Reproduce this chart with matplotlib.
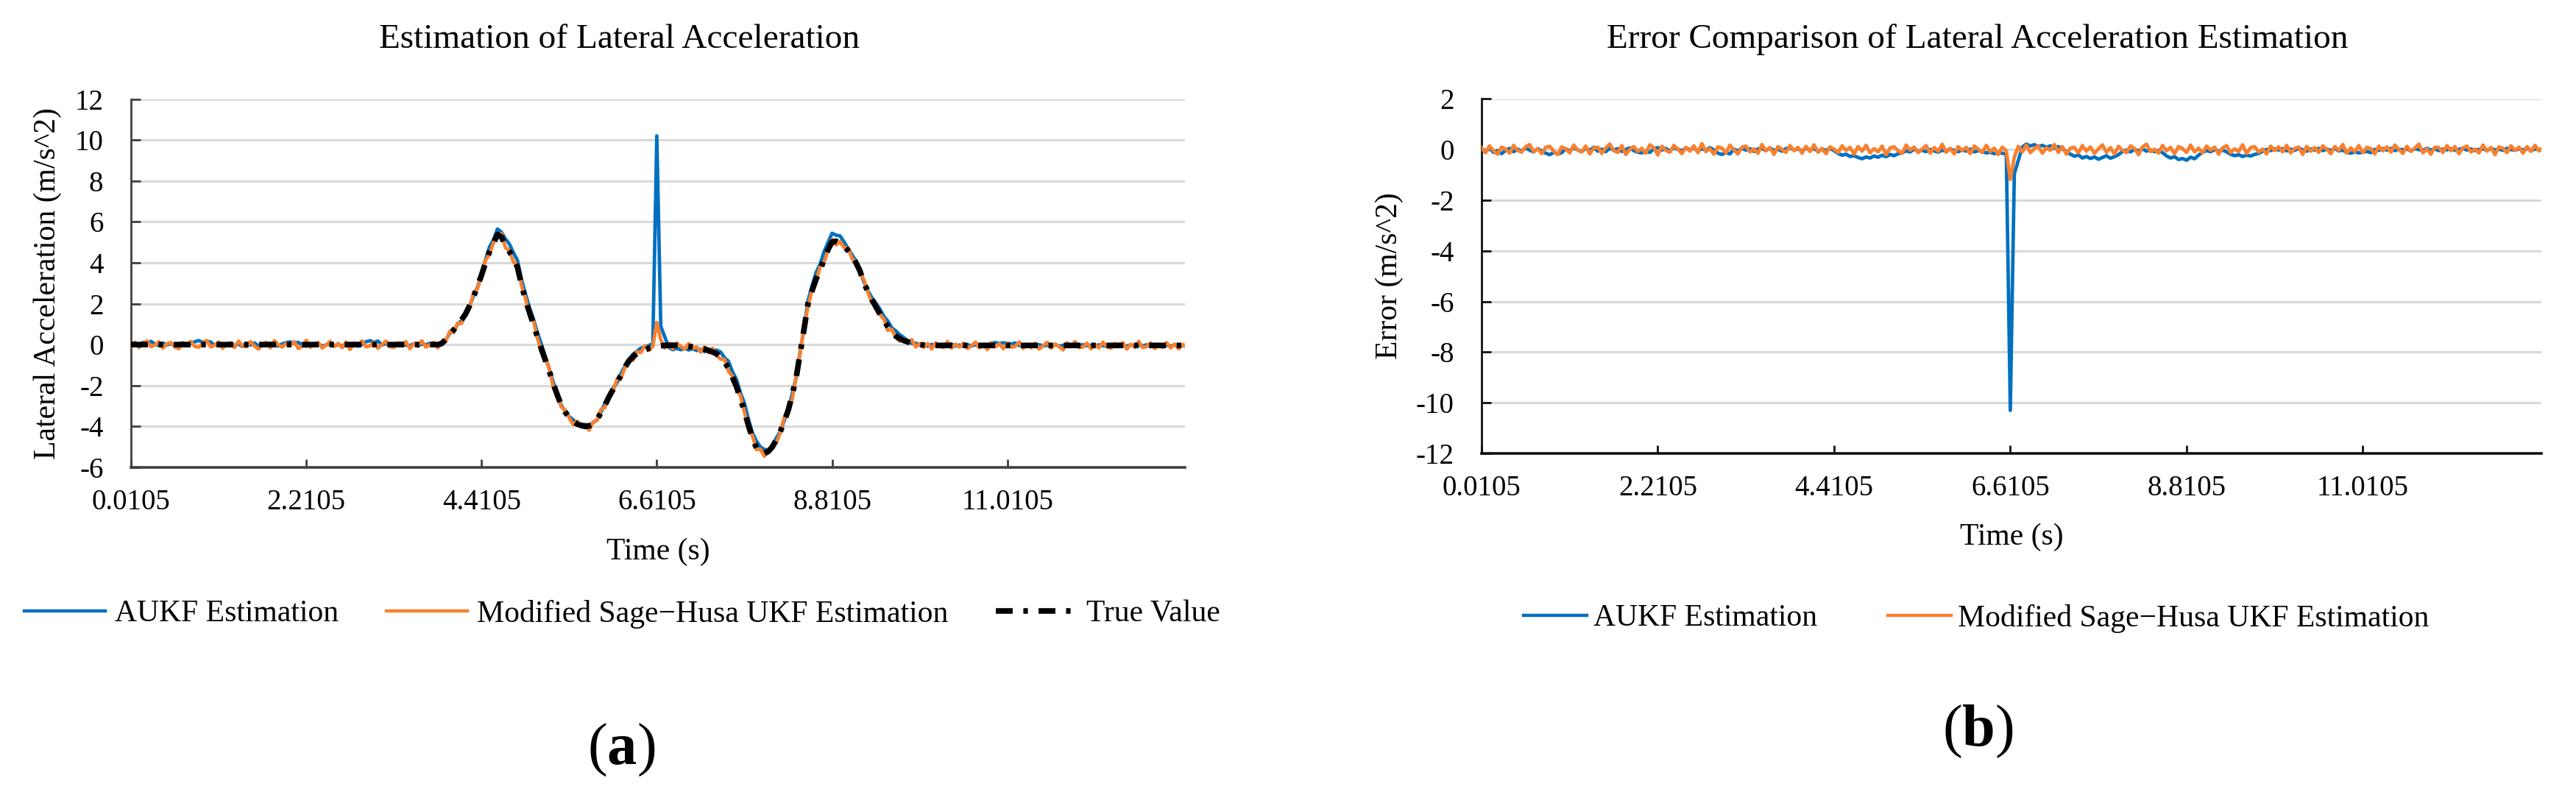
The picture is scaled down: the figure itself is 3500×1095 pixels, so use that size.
import numpy as np
import matplotlib
matplotlib.use('Agg')
import matplotlib.pyplot as plt
from matplotlib.lines import Line2D

plt.rcParams['font.family'] = ['Liberation Serif', 'DejaVu Serif']
plt.rcParams['mathtext.fontset'] = 'custom'
plt.rcParams['mathtext.rm'] = 'Liberation Serif'
plt.rcParams['mathtext.bf'] = 'Liberation Serif:bold'
plt.rcParams['axes.unicode_minus'] = False

# ---------------- data ----------------
time_start = 0.0105
time_step = 0.05

true_value = [
    0, 0, 0, 0, 0, 0, 0, 0, 0, 0,
    0, 0, 0, 0, 0, 0, 0, 0, 0, 0,
    0, 0, 0, 0, 0, 0, 0, 0, 0, 0,
    0, 0, 0, 0, 0, 0, 0, 0, 0, 0,
    0, 0, 0, 0, 0, 0, 0, 0, 0, 0,
    0, 0, 0, 0, 0, 0, 0, 0, 0, 0,
    0, 0, 0, 0, 0, 0, 0, 0, 0, 0,
    0, 0, 0, 0, 0, 0, 0, 0, 0.05, 0.25,
    0.5, 0.72, 0.98, 1.22, 1.5, 1.9, 2.35, 2.85, 3.4, 4.0,
    4.55, 4.95, 5.38, 5.25, 4.85, 4.55, 4.2, 3.8, 2.95, 2.2,
    1.6, 1.0, 0.4, -0.2, -0.75, -1.3, -1.9, -2.45, -2.95, -3.3,
    -3.55, -3.75, -3.88, -3.95, -4.0, -3.97, -3.88, -3.65, -3.33, -2.95,
    -2.55, -2.2, -1.85, -1.5, -1.1, -0.8, -0.6, -0.43, -0.33, -0.25,
    -0.18, -0.14, -0.1, -0.06, -0.04, -0.03, -0.03, -0.04, -0.05, -0.07,
    -0.09, -0.11, -0.14, -0.17, -0.22, -0.28, -0.36, -0.45, -0.62, -0.85,
    -1.15, -1.6, -2.05, -2.65, -3.25, -3.95, -4.55, -5.05, -5.28, -5.32,
    -5.22, -5.0, -4.65, -4.25, -3.75, -3.2, -2.45, -1.6, -0.4, 0.8,
    2.05, 2.65, 3.2, 3.65, 4.15, 4.65, 5.02, 5.05, 4.95, 4.8,
    4.6, 4.35, 4.0, 3.6, 3.0, 2.6, 2.2, 1.85, 1.5, 1.18,
    0.88, 0.6, 0.42, 0.29, 0.2, 0.13, 0.07, 0.03, 0.0, -0.02,
    -0.04, -0.04, -0.04, -0.04, -0.04, -0.04, -0.04, -0.04, -0.04, -0.04,
    -0.04, -0.04, -0.04, -0.04, -0.04, -0.04, -0.04, -0.04, -0.04, -0.04,
    -0.04, -0.04, -0.04, -0.04, -0.04, -0.04, -0.04, -0.04, -0.04, -0.04,
    -0.04, -0.04, -0.04, -0.04, -0.04, -0.04, -0.04, -0.04, -0.04, -0.04,
    -0.04, -0.04, -0.04, -0.04, -0.04, -0.04, -0.04, -0.04, -0.04, -0.04,
    -0.04, -0.04, -0.04, -0.04, -0.04, -0.04, -0.04, -0.04, -0.04, -0.04,
    -0.04, -0.04, -0.04, -0.04, -0.04, -0.04,
]

# error = true value - estimation
aukf_error = [
    -0.02, -0.09, 0.06, -0.11, -0.04, -0.16, -0.03, 0.05, -0.08, 0.02,
    -0.06, 0.07, -0.02, -0.09, 0.04, -0.05, -0.14, -0.20, -0.11, -0.17,
    -0.12, 0.03, -0.05, 0.08, -0.01, -0.07, 0.05, -0.03, 0.09, -0.06,
    0.02, -0.08, 0.06, -0.02, 0.04, -0.07, 0.01, 0.07, -0.04, -0.10,
    -0.13, -0.06, -0.11, 0.03, 0.08, -0.02, 0.05, -0.06, 0.09, 0.01,
    -0.04, 0.06, 0.00, 0.07, -0.05, 0.04, -0.03, 0.08, -0.01, -0.14,
    -0.19, -0.12, -0.17, 0.02, -0.05, 0.06, -0.02, 0.04, -0.07, 0.03,
    0.05, -0.04, 0.07, -0.03, 0.01, -0.06, 0.04, 0.08, -0.02, 0.03,
    -0.05, 0.06, -0.01, 0.04, -0.07, 0.02, -0.03, 0.05, -0.04, -0.15,
    -0.22, -0.18, -0.27, -0.24, -0.31, -0.36, -0.29, -0.33, -0.25, -0.30,
    -0.22, -0.28, -0.19, -0.24, -0.16, -0.12, -0.05, -0.09, 0.02, -0.06,
    -0.03, -0.08, 0.01, -0.05, -0.10, -0.02, -0.07, 0.03, -0.04, -0.08,
    -0.01, -0.06, 0.02, -0.09, -0.04, -0.07, -0.13, -0.10, -0.16, -0.12,
    -0.14, -0.18, -10.30, -0.95, -0.42, 0.10, 0.22, 0.14, 0.20, 0.11,
    0.17, 0.09, 0.15, 0.06, 0.12, 0.03, -0.08, -0.18, -0.26, -0.21,
    -0.33, -0.27, -0.35, -0.29, -0.38, -0.31, -0.24, -0.34, -0.28, -0.20,
    -0.07, -0.02, -0.09, 0.01, -0.05, 0.03, -0.06, -0.01, -0.08, -0.03,
    -0.12, -0.25, -0.33, -0.28, -0.39, -0.35, -0.42, -0.30, -0.36, -0.22,
    -0.10, -0.04, -0.08, 0.00, -0.06, -0.02, -0.09, -0.18, -0.24, -0.20,
    -0.27, -0.22, -0.25, -0.19, -0.15, -0.06, 0.01, -0.04, 0.03, -0.02,
    0.04, -0.05, 0.02, -0.03, 0.06, -0.01, -0.06, 0.03, -0.02, 0.05,
    -0.04, 0.02, -0.03, 0.04, -0.05, -0.02, -0.11, -0.14, -0.09, -0.13,
    -0.10, -0.07, -0.12, 0.01, -0.03, 0.04, -0.02, 0.05, -0.04, 0.02,
    -0.01, 0.03, -0.05, 0.04, 0.00, -0.03, 0.05, -0.02, 0.03, -0.04,
    0.02, -0.01, 0.04, -0.03, 0.01, 0.05, -0.02, 0.03, -0.04, 0.01,
    0.03, -0.02, 0.04, -0.01, 0.02, -0.03, 0.05, 0.00, -0.02, 0.03,
    -0.01, 0.04, -0.03, 0.02, 0.01, -0.02,
]

sage_husa_error = [
    0.08, -0.12, 0.15, -0.05, -0.18, 0.10, 0.02, -0.14, 0.17, -0.03,
    -0.10, 0.12, 0.20, -0.08, 0.04, -0.16, 0.09, 0.13, -0.06, -0.20,
    0.11, 0.03, -0.13, 0.18, -0.02, -0.09, 0.14, -0.17, 0.06, 0.10,
    -0.15, 0.07, 0.22, -0.04, -0.11, 0.16, -0.19, 0.01, 0.12, -0.07,
    0.05, -0.14, 0.19, 0.08, -0.21, 0.13, -0.03, -0.10, 0.17, 0.02,
    -0.16, 0.09, -0.06, 0.15, -0.12, 0.24, -0.08, 0.04, -0.18, 0.11,
    0.06, -0.13, 0.18, -0.01, -0.17, 0.10, 0.14, -0.09, 0.03, -0.15,
    0.20, -0.05, 0.08, -0.19, 0.12, 0.01, -0.11, 0.16, -0.04, 0.09,
    -0.14, 0.13, -0.07, 0.19, -0.10, 0.05, -0.16, 0.11, 0.02, -0.12,
    0.15, -0.03, 0.09, -0.18, 0.12, -0.06, 0.17, -0.13, 0.04, -0.09,
    0.14, -0.20, 0.07, 0.11, -0.05, -0.15, 0.18, -0.02, 0.10, -0.12,
    0.03, 0.16, -0.14, 0.08, -0.07, 0.21, -0.10, 0.05, -0.17, 0.12,
    -0.04, 0.09, -0.16, 0.14, 0.02, -0.11, 0.17, -0.08, 0.06, -0.19,
    0.10, -0.05, -1.18, -0.30, 0.13, -0.09, 0.18, -0.12, 0.04, 0.15,
    -0.14, 0.07, -0.03, 0.20, -0.11, 0.12, -0.18, 0.06, 0.09, -0.13,
    0.16, -0.06, 0.11, -0.15, 0.03, 0.19, -0.10, 0.08, -0.17, 0.13,
    -0.02, -0.12, 0.15, 0.05, -0.20, 0.10, 0.22, -0.08, 0.01, -0.14,
    0.17, -0.05, 0.09, -0.16, 0.12, 0.04, -0.11, 0.18, -0.09, 0.06,
    -0.13, 0.14, -0.02, 0.10, -0.18, 0.07, 0.16, -0.12, 0.03, -0.07,
    0.19, -0.15, 0.08, 0.12, -0.10, 0.02, -0.17, 0.14, -0.04, 0.11,
    -0.09, 0.17, -0.13, 0.05, 0.10, -0.19, 0.13, -0.06, 0.08, -0.11,
    0.15, 0.02, -0.16, 0.12, -0.03, 0.20, -0.14, 0.07, -0.08, 0.16,
    -0.12, 0.09, 0.04, -0.17, 0.14, -0.05, 0.11, -0.10, 0.18, 0.01,
    -0.15, 0.13, -0.07, 0.06, 0.22, -0.13, 0.03, -0.18, 0.10, 0.08,
    -0.11, 0.16, -0.04, 0.12, -0.16, 0.07, 0.14, -0.09, 0.02, -0.13,
    0.18, -0.06, 0.09, -0.20, 0.11, 0.05, -0.12, 0.15, -0.03, 0.10,
    -0.14, 0.12, -0.07, 0.17, -0.05, 0.08,
]

x_ticks = [0.0105, 2.2105, 4.4105, 6.6105, 8.8105, 11.0105]
x_tick_labels = ['0.0105', '2.2105', '4.4105', '6.6105', '8.8105', '11.0105']
x_limits = (0.0105, 13.24)
acc_ticks = [-6, -4, -2, 0, 2, 4, 6, 8, 10, 12]
acc_tick_labels = ['-6', '-4', '-2', '0', '2', '4', '6', '8', '10', '12']
err_ticks = [-12, -10, -8, -6, -4, -2, 0, 2]
err_tick_labels = ['-12', '-10', '-8', '-6', '-4', '-2', '0', '2']

labels = ['AUKF Estimation', 'Modified Sage\u2212Husa UKF Estimation', 'True Value']

# ---------------- derived series ----------------
time = time_start + time_step * np.arange(len(true_value))
true_arr = np.array(true_value)
aukf_est = true_arr - np.array(aukf_error)
sage_est = true_arr - np.array(sage_husa_error)

BLUE = '#0070C0'
ORANGE = '#F8802E'
GRID = '#D9D9D9'
DASH = (0, (3.0, 1.9, 0.8, 1.9))
LW = 3.4

W, H = 3500, 1095
fig = plt.figure(figsize=(W / 100, H / 100), dpi=100)


def fx(px):
    return px / W


def fy(py):
    return 1 - py / H


ax1 = fig.add_axes([fx(178), fy(635), fx(1610) - fx(178), fy(134.5) - fy(635)])
ax2 = fig.add_axes([fx(2013), fy(616), fx(3453) - fx(2013), fy(134.5) - fy(616)])

# left chart
ax1.plot(time, aukf_est, color=BLUE, lw=LW, zorder=3)
ax1.plot(time, sage_est, color=ORANGE, lw=LW, zorder=4)
ax1.plot(time, true_arr, color='black', lw=5.5, linestyle=DASH,
         dash_capstyle='butt', zorder=5)
ax1.set_ylim(-6, 12)
ax1.set_yticks(acc_ticks)
ax1.set_yticklabels(acc_tick_labels)

# right chart
ax2.plot(time, aukf_error, color=BLUE, lw=LW, zorder=3)
ax2.plot(time, sage_husa_error, color=ORANGE, lw=LW, zorder=4)
ax2.set_ylim(-12, 2)
ax2.set_yticks(err_ticks)
ax2.set_yticklabels(err_tick_labels)

for ax, spcol in ((ax1, '#404040'), (ax2, '#111111')):
    ax.set_xlim(*x_limits)
    ax.set_xticks(x_ticks)
    ax.set_xticklabels(x_tick_labels)
    ax.grid(axis='y', color=GRID, lw=2.2)
    ax.grid(axis='x', visible=False)
    ax.set_axisbelow(True)
    for s in ('top', 'right'):
        ax.spines[s].set_visible(False)
    ax.spines['bottom'].set_color(spcol)
    ax.spines['bottom'].set_linewidth(2.6)
    ax.spines['left'].set_color(spcol)
    ax.spines['left'].set_linewidth(2.0)
    ax.tick_params(axis='x', direction='in', length=8, width=2, pad=21,
                   labelsize=28, colors=spcol, labelcolor='black')
    ax.tick_params(axis='y', direction='in', length=9, width=2, pad=27,
                   labelsize=28, colors=spcol, labelcolor='black')

# titles and axis labels
fig.text(fx(842), fy(54), 'Estimation of Lateral Acceleration', fontsize=34,
         ha='center', va='center')
fig.text(fx(2687), fy(54), 'Error Comparison of Lateral Acceleration Estimation',
         fontsize=34, ha='center', va='center')
fig.text(fx(894), fy(750), 'Time (s)', fontsize=30, ha='center', va='center')
fig.text(fx(2733), fy(730), 'Time (s)', fontsize=30, ha='center', va='center')
fig.text(fx(65), fy(385), 'Lateral Acceleration (m/s^2)', fontsize=30,
         rotation=90, ha='center', va='center')
fig.text(fx(1888), fy(375), 'Error (m/s^2)', fontsize=30,
         rotation=90, ha='center', va='center')

# legends
h_blue = Line2D([], [], color=BLUE, lw=3.2)
h_orange = Line2D([], [], color=ORANGE, lw=3.2)
h_true = Line2D([], [], color='black', lw=5.5, linestyle=DASH, dash_capstyle='butt')

fig.legend([h_blue, h_orange, h_true], labels, loc='center left',
           bbox_to_anchor=(fx(33), fy(834)), ncol=3, frameon=False, fontsize=30,
           handlelength=2.64, handletextpad=0.31, columnspacing=1.56,
           borderaxespad=0, borderpad=0)
fig.legend([h_blue, h_orange], labels[:2], loc='center left',
           bbox_to_anchor=(fx(2070), fy(840)), ncol=2, frameon=False, fontsize=30,
           handlelength=2.06, handletextpad=0.22, columnspacing=2.3,
           borderaxespad=0, borderpad=0)

# panel labels
fig.text(fx(844), fy(1019), r'($\mathbf{a}$)', fontsize=58, ha='center', va='center')
fig.text(fx(2687), fy(994), r'($\mathbf{b}$)', fontsize=58, ha='center', va='center')

fig.savefig('out.png', dpi=100)
